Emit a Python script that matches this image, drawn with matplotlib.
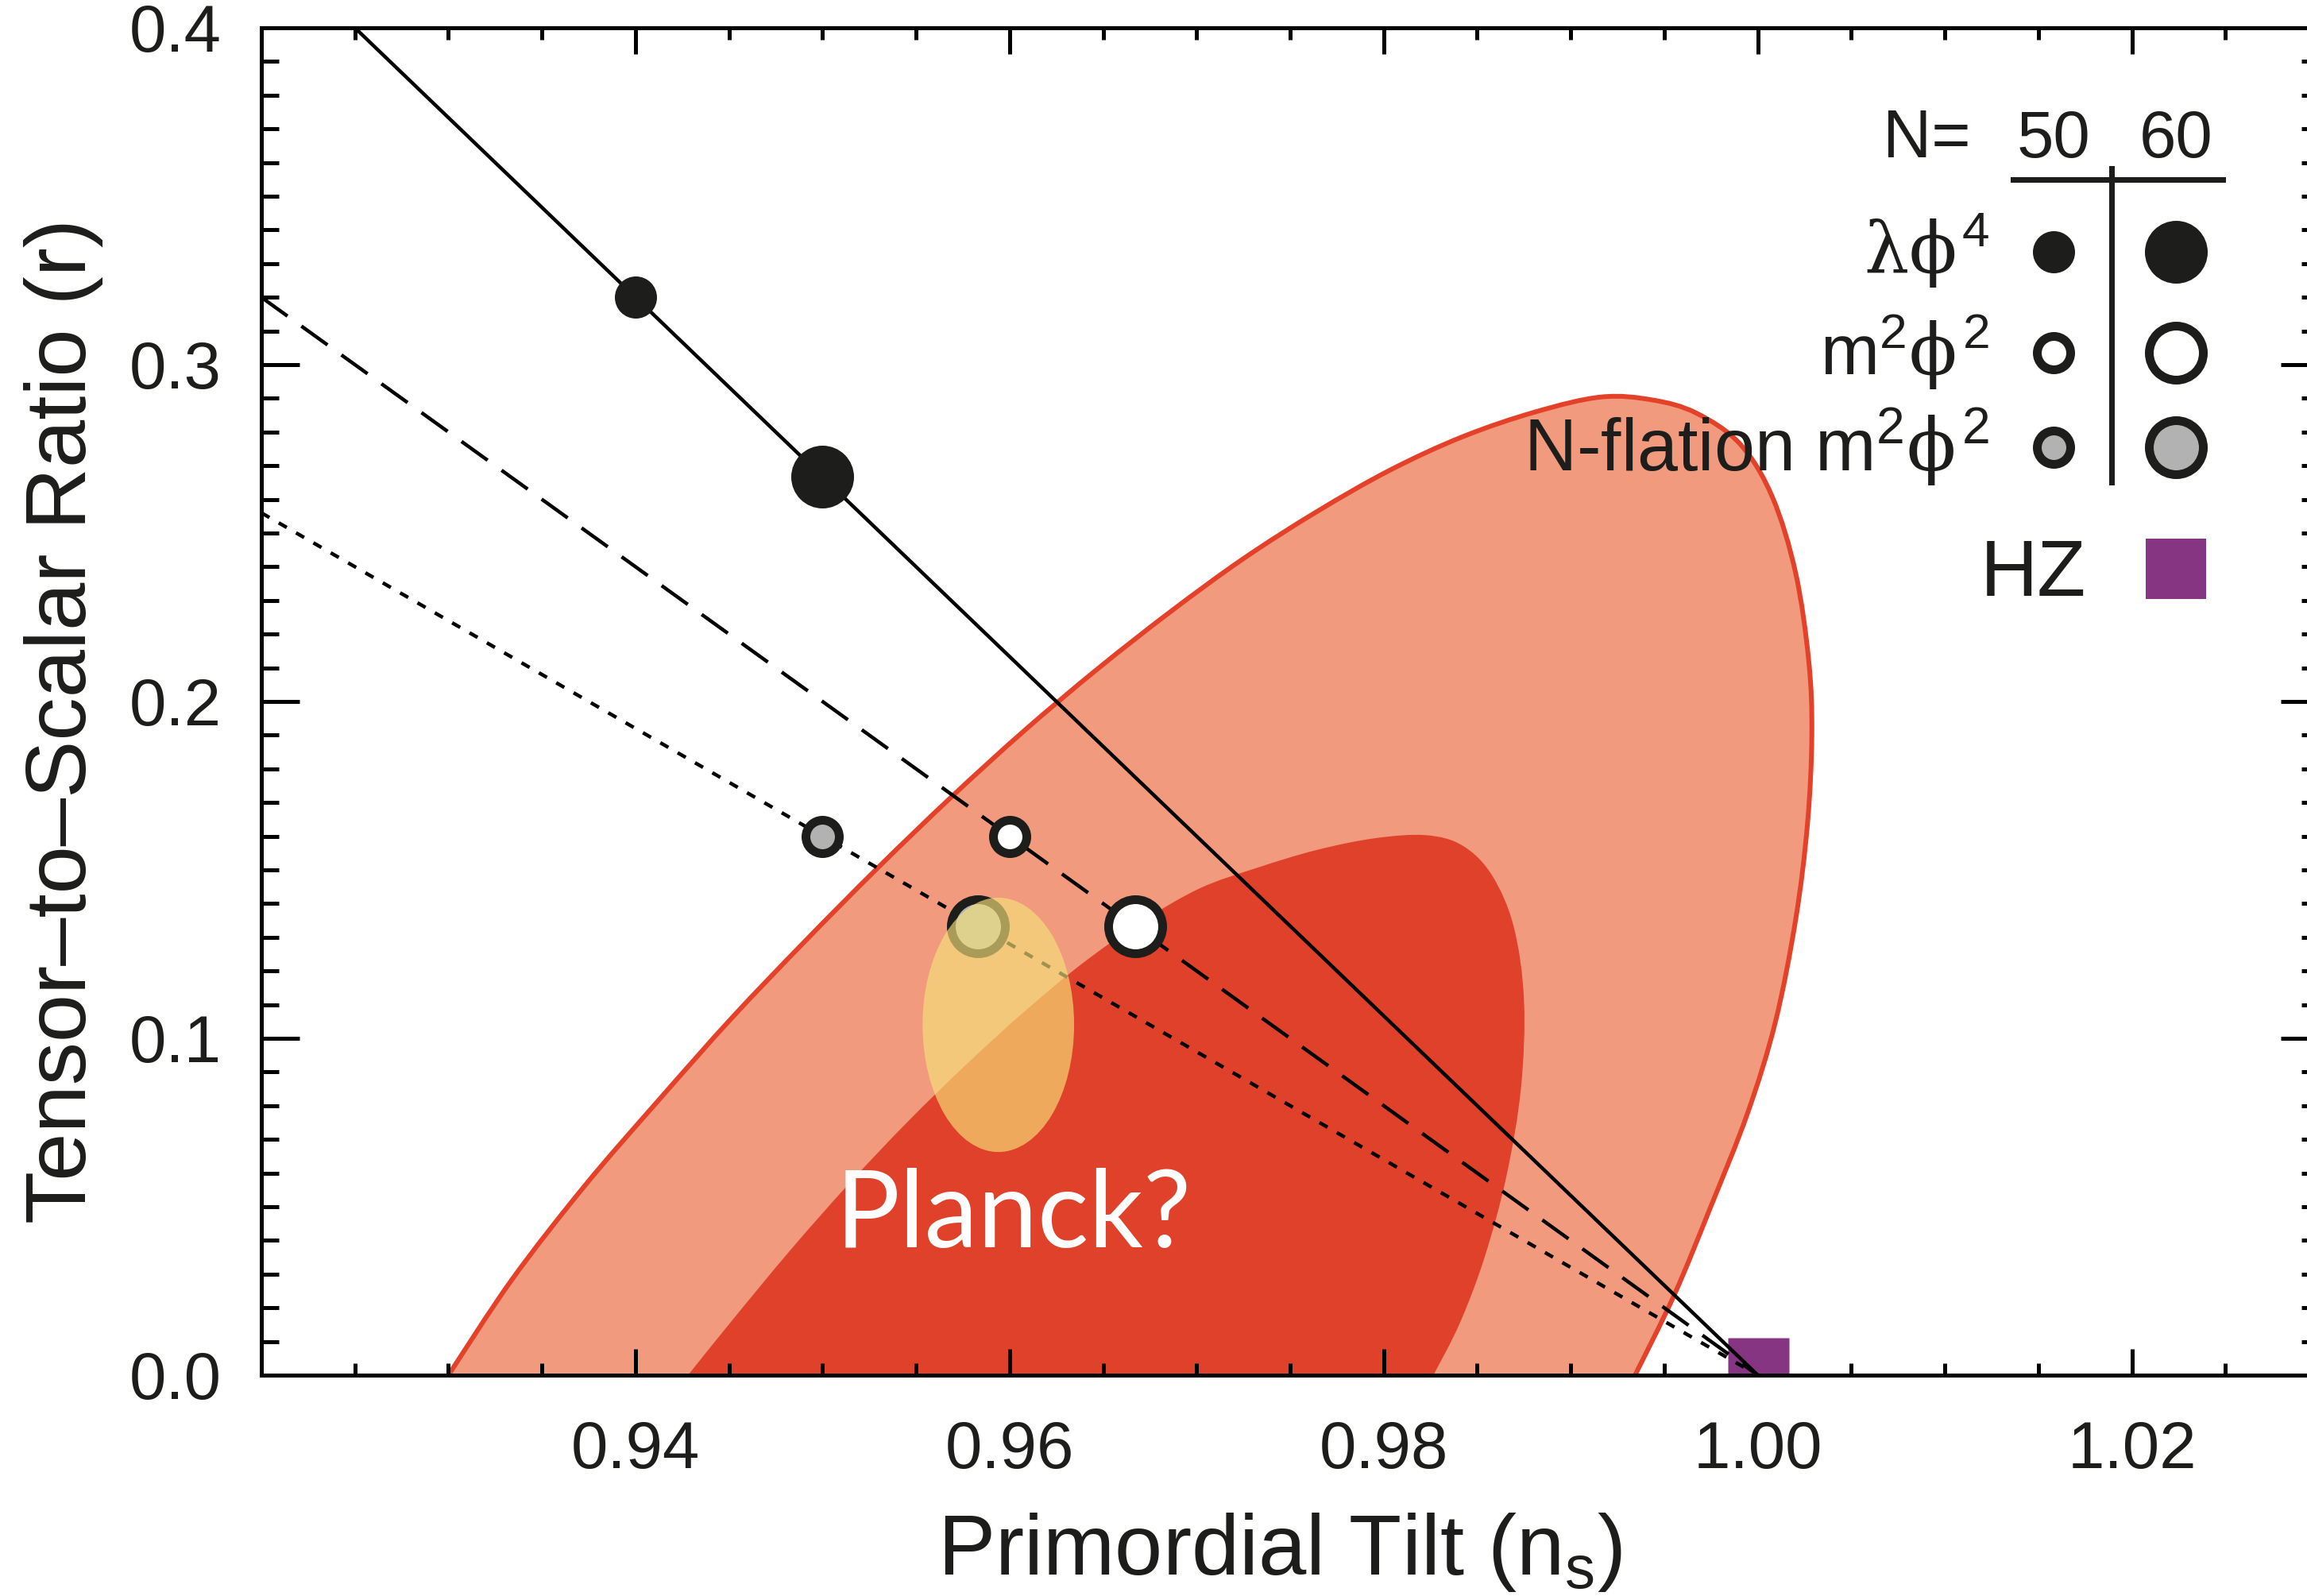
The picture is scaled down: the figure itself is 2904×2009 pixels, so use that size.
import numpy as np
import matplotlib
matplotlib.use("Agg")
import matplotlib.pyplot as plt
import matplotlib.transforms as mtransforms
from matplotlib.patches import PathPatch, Ellipse, Rectangle
from matplotlib.path import Path
from matplotlib.lines import Line2D
from matplotlib.ticker import MultipleLocator, FixedLocator

# ---------------- data ----------------
outer_ns = [0.9300, 0.9334, 0.9373, 0.94125, 0.94516, 0.94906, 0.95297, 0.95688,
            0.96078, 0.96469, 0.96859, 0.97250, 0.97641, 0.98031, 0.98422, 0.98813,
            0.99164, 0.99438, 0.99672, 0.99906, 1.00078, 1.00203, 1.00273, 1.00289,
            1.00266, 1.00203, 1.00094, 0.99945, 0.99750, 0.99555, 0.99344]
outer_r = [0.0, 0.0284, 0.0563, 0.0817, 0.1061, 0.1288, 0.1507, 0.1716,
           0.1913, 0.2096, 0.2266, 0.2424, 0.2563, 0.2686, 0.2786, 0.2860,
           0.2904, 0.2895, 0.2856, 0.2764, 0.2607, 0.2380, 0.2118, 0.1900,
           0.1638, 0.1354, 0.1048, 0.0777, 0.0502, 0.0240, 0.0]

inner_ns = [0.94281, 0.94516, 0.94828, 0.95141, 0.95453, 0.95766, 0.96078, 0.96391,
            0.96703, 0.97016, 0.97328, 0.97641, 0.97953, 0.98227, 0.98422, 0.98578,
            0.98695, 0.98750, 0.98734, 0.98656, 0.98539, 0.98406, 0.98266]
inner_r = [0.0, 0.0162, 0.0371, 0.0568, 0.0751, 0.0921, 0.1079, 0.1223,
           0.1345, 0.1445, 0.1507, 0.1559, 0.1594, 0.1603, 0.1572, 0.1485,
           0.1332, 0.1114, 0.0852, 0.0590, 0.0349, 0.0153, 0.0]

phi4_line_ns = [0.925, 1.0]
phi4_line_r = [0.4, 0.0]
m2_line_ns = [0.92, 1.0]
m2_line_r = [0.32, 0.0]
nfl_line_ns = [0.92, 1.0]
nfl_line_r = [0.256, 0.0]

N_values = ["50", "60"]
phi4_ns = [0.94, 0.95]
phi4_r = [0.32, 0.2667]
m2_ns = [0.96, 0.9667]
m2_r = [0.16, 0.1333]
nfl_ns = [0.95, 0.9583]
nfl_r = [0.16, 0.1333]
hz_ns = [1.0]
hz_r = [0.0]

planck_ns, planck_r = 0.9594, 0.104
planck_w, planck_h = 0.0081, 0.0755

xticks = [0.94, 0.96, 0.98, 1.00, 1.02]
xticklabels = ["0.94", "0.96", "0.98", "1.00", "1.02"]
yticks = [0.0, 0.1, 0.2, 0.3, 0.4]
yticklabels = ["0.0", "0.1", "0.2", "0.3", "0.4"]

legend_labels = [r"$\lambda\phi^{\mathrm{4}}$",
                 r"$\mathrm{m}^{\mathrm{2}}\phi^{\mathrm{2}}$",
                 r"N-flation $\mathrm{m}^{\mathrm{2}}\phi^{\mathrm{2}}$"]

# ---------------- style ----------------
plt.rcParams['font.family'] = ['Liberation Sans', 'DejaVu Sans']
plt.rcParams['mathtext.fontset'] = 'custom'
plt.rcParams['mathtext.rm'] = 'Liberation Sans'
plt.rcParams['mathtext.it'] = 'DejaVu Serif'
plt.rcParams['mathtext.bf'] = 'Liberation Sans:bold'

TXT = '#1d1d1b'
BLK = '#1d1d1b'
SALMON = '#F19A7E'
RED = '#E0412A'
EDGE_RED = '#E3412A'
GRAY = '#B2B2B2'
PURPLE = '#853581'

W, H = 2904, 2009
DPI = 100
PX = 72.0 / DPI  # points per pixel


def smooth_path(xs, ys, close=True):
    """Catmull-Rom spline through the given vertices, as cubic Bezier segments."""
    P = np.column_stack([xs, ys]).astype(float)
    n = len(P)
    Pe = np.vstack([P[0], P, P[-1]])
    verts = [P[0]]
    codes = [Path.MOVETO]
    for i in range(n - 1):
        p0, p1, p2, p3 = Pe[i], Pe[i + 1], Pe[i + 2], Pe[i + 3]
        c1 = p1 + (p2 - p0) / 6.0
        c2 = p2 - (p3 - p1) / 6.0
        verts += [c1, c2, p2]
        codes += [Path.CURVE4] * 3
    if close:
        verts += [P[0], P[0]]
        codes += [Path.LINETO, Path.CLOSEPOLY]
    return Path(np.array(verts), codes)


fig = plt.figure(figsize=(W / DPI, H / DPI), dpi=DPI)
x0, x1, y0, y1 = 329, 2919, 35, 1731
ax = fig.add_axes([x0 / W, 1 - y1 / H, (x1 - x0) / W, (y1 - y0) / H])
ax.set_xlim(0.92, 1.03)
ax.set_ylim(0.0, 0.4)

# contours
ax.add_patch(PathPatch(smooth_path(outer_ns, outer_r), facecolor=SALMON,
                       edgecolor='none', zorder=1))
ax.add_patch(PathPatch(smooth_path(inner_ns, inner_r), facecolor=RED,
                       edgecolor='none', zorder=1.1))
ax.add_patch(PathPatch(smooth_path(outer_ns, outer_r, close=False), facecolor='none',
                       edgecolor=EDGE_RED, linewidth=6 * PX, zorder=1.2))

# model lines
lw = 4.5 * PX
ax.plot(phi4_line_ns, phi4_line_r, color='black', lw=lw, zorder=3, solid_capstyle='butt')
l2, = ax.plot(m2_line_ns, m2_line_r, color='black', lw=lw, zorder=3, dash_capstyle='butt')
l2.set_dashes([9, 4.8])
l3, = ax.plot(nfl_line_ns, nfl_line_r, color='black', lw=lw, zorder=3, dash_capstyle='butt')
l3.set_dashes([2.6, 3.0])

ms_sizes = [42 * PX, 68 * PX]
mew = 11 * PX
for i in range(2):
    ax.plot(phi4_ns[i], phi4_r[i], 'o', ms=ms_sizes[i], mfc=BLK, mec=BLK, mew=mew, zorder=4)
    ax.plot(m2_ns[i], m2_r[i], 'o', ms=ms_sizes[i], mfc='white', mec=BLK, mew=mew, zorder=4)
    ax.plot(nfl_ns[i], nfl_r[i], 'o', ms=ms_sizes[i], mfc=GRAY, mec=BLK, mew=mew, zorder=4)

# HZ point
hz_tr = ax.transData + mtransforms.ScaledTranslation(0, 9 / DPI, fig.dpi_scale_trans)
ax.plot(hz_ns, hz_r, 's', ms=77 * PX, mfc=PURPLE, mec='none', zorder=2.4,
        transform=hz_tr, clip_on=True)

# Planck forecast ellipse
ax.add_patch(Ellipse((planck_ns, planck_r), planck_w, planck_h, facecolor='#F7E27A',
                     alpha=0.65, edgecolor='none', zorder=5))
ax.text(0.9602, 0.038, "Planck?", color='white', fontsize=97, family='Lato',
        ha='center', va='baseline', zorder=6)

# axes styling
for s in ax.spines.values():
    s.set_linewidth(5 * PX)
    s.set_color('black')
    s.set_zorder(10)
ax.xaxis.set_major_locator(FixedLocator(xticks))
ax.set_xticklabels(xticklabels)
ax.xaxis.set_minor_locator(MultipleLocator(0.005))
ax.yaxis.set_major_locator(FixedLocator(yticks))
ax.set_yticklabels(yticklabels)
ax.yaxis.set_minor_locator(MultipleLocator(0.01))
ax.tick_params(axis='x', which='major', direction='in', length=33 * PX, width=5 * PX,
               top=True, bottom=True, labelsize=60, pad=40, colors='black', labelcolor=TXT)
ax.tick_params(axis='x', which='minor', direction='in', length=15 * PX, width=5 * PX,
               top=True, bottom=True, colors='black')
ax.tick_params(axis='y', which='major', direction='in', length=48 * PX, width=5 * PX,
               left=True, right=True, labelsize=60, pad=36, colors='black', labelcolor=TXT)
ax.tick_params(axis='y', which='minor', direction='in', length=22 * PX, width=5 * PX,
               left=True, right=True, colors='black')

# axis labels
fig.text(1611 / W, 1 - 1982 / H, r"Primordial Tilt (n$_\mathrm{s}$)", fontsize=78,
         color=TXT, ha='center', va='baseline')
fig.text(80 / W, 1 - 907 / H, "Tensor\u2013to\u2013Scalar Ratio (r)", fontsize=78,
         color=TXT, ha='center', va='center', rotation=90)

# ---------------- legend (figure pixel coords) ----------------
def fx(x):
    return x / W

def fy(y):
    return 1 - y / H

col_x = [2585, 2739]
row_y = [317, 444, 563]
fig.text(fx(2370), fy(198), "N=", fontsize=61, color=TXT, ha='left', va='baseline')
for cx, lab in zip(col_x, N_values):
    fig.text(fx(cx), fy(198), lab, fontsize=60, color=TXT, ha='center', va='baseline')
fig.add_artist(Line2D([fx(2534), fx(2798)], [fy(226), fy(226)], color=BLK, lw=7 * PX,
                      transform=fig.transFigure))
fig.add_artist(Line2D([fx(2658), fx(2658)], [fy(212), fy(607)], color=BLK, lw=7 * PX,
                      transform=fig.transFigure))

label_base = [344, 472, 593]
label_sizes = [64, 64, 66]
for j, lab in enumerate(legend_labels):
    fig.text(fx(2504), fy(label_base[j]), lab, fontsize=label_sizes[j], color=TXT,
             ha='right', va='baseline')
styles = [(BLK, BLK), ('white', BLK), (GRAY, BLK)]
for j in range(3):
    for i in range(2):
        fig.add_artist(Line2D([fx(col_x[i])], [fy(row_y[j])], marker='o', ms=ms_sizes[i],
                              mfc=styles[j][0], mec=styles[j][1], mew=mew, ls='none',
                              transform=fig.transFigure))
fig.text(fx(2626), fy(750), "HZ", fontsize=72, color=TXT, ha='right', va='baseline')
fig.add_artist(Rectangle((fx(2701), fy(754)), 76 / W, 76 / H, facecolor=PURPLE,
                         edgecolor='none', transform=fig.transFigure))

fig.savefig("out.png", dpi=DPI)
